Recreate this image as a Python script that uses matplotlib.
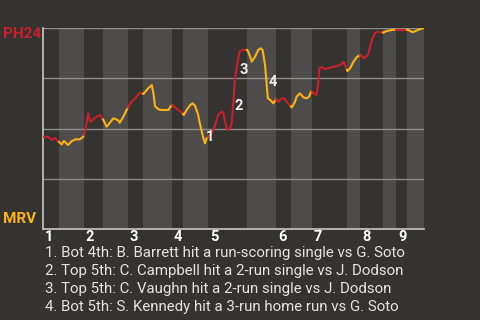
import matplotlib
matplotlib.use("Agg")
import matplotlib.pyplot as plt
import numpy as np

# win probability for PH24 (away team) after each plate appearance
pa = [0, 1.3, 2.2, 3.0, 3.4, 4.7, 5.2, 6.3, 7.2, 8.2, 9.2, 10.1, 10.5, 10.9, 11.3, 11.8,
      13.0, 14.2, 15.1, 15.9, 16.6, 17.6, 18.7, 19.2, 20.1, 20.9, 21.8, 22.6, 23.4, 24.2,
      25.1, 26.3, 27.2, 27.6, 28.0, 28.8, 29.7, 31.3, 32.2, 33.0, 33.8, 34.7, 35.2, 35.9,
      36.8, 37.4, 38.0, 38.8, 39.2, 40.1, 40.5, 40.9, 41.8, 42.6, 43.8, 44.7, 45.1, 45.5,
      46.1, 46.8, 47.2, 47.6, 48.0, 48.4, 48.8, 49.2, 50.1, 51.1, 51.8, 52.2, 53.0, 53.8,
      54.4, 54.9, 55.5, 55.9, 56.2, 56.8, 57.6, 58.2, 58.8, 59.7, 60.3, 60.9, 62.2, 63.0,
      63.4, 64.2, 65.1, 65.9, 66.5, 67.0, 67.6, 68.4, 68.8, 69.1, 69.7, 70.3, 71.3, 72.6,
      73.8, 74.7, 75.2, 75.8, 76.1, 76.8, 77.6, 78.4, 79.2, 80.3, 81.3, 81.8, 82.2, 83.0,
      83.6, 84.2, 85.1, 85.9, 87.2, 88.2, 91.1, 92.4, 93.4, 94.2, 95.25]
wp = [45.9, 45.9, 44.3, 45.4, 44.3, 42.1, 43.8, 41.8, 43.8, 44.6, 44.6, 45.9, 48.4, 52.6, 57.6, 53.4,
      55.4, 56.7, 54.2, 50.9, 52.6, 55.1, 54.2, 52.9, 55.9, 59.2, 62.5, 64.2, 65.8, 67.8,
      67.2, 70.0, 71.6, 67.5, 61.2, 59.6, 59.2, 59.2, 61.7, 60.5, 59.2, 57.9, 56.7, 59.2,
      61.7, 62.5, 61.3, 56.7, 52.6, 45.1, 42.6, 45.1, 46.8, 49.3, 56.7, 58.4, 57.6, 53.4,
      49.3, 50.1, 53.4, 63.3, 75.0, 80.0, 84.9, 88.6, 89.1, 89.1, 85.7, 83.2, 85.7, 89.1,
      89.9, 89.1, 81.6, 72.5, 65.0, 64.2, 62.5, 64.5, 63.3, 65.0, 65.0, 63.3, 60.5, 63.3,
      65.8, 67.5, 65.5, 65.0, 65.8, 68.3, 67.5, 66.7, 72.5, 80.0, 80.7, 79.6, 80.0, 80.7,
      81.2, 82.1, 83.2, 80.0, 78.6, 80.0, 83.2, 85.4, 86.6, 84.9, 86.9, 90.7, 94.0, 97.4,
      98.2, 97.9, 97.7, 98.5, 99.0, 99.2, 99.2, 97.9, 98.7, 99.4, 100.0]

# half-inning boundaries (top 1st ... bottom 9th)
half_innings = [0, 4, 10.25, 15, 21.25, 25, 32.25, 35, 41.25, 51, 58.25, 62, 67.25,
                76, 79.25, 85, 88.25, 91, 95.25]
innings = ["1", "2", "3", "4", "5", "6", "7", "8", "9"]

# key plays
event_pa = [40.3, 47.4, 48.5, 55.9]
event_wp = [45.8, 61.2, 79.1, 73.1]
event_labels = ["1", "2", "3", "4"]
event_text = [
    "1. Bot 4th: B. Barrett hit a run-scoring single vs G. Soto",
    "2. Top 5th: C. Campbell hit a 2-run single vs J. Dodson",
    "3. Top 5th: C. Vaughn hit a 2-run single vs J. Dodson",
    "4. Bot 5th: S. Kennedy hit a 3-run home run vs G. Soto",
]

bg = "#353330"
band = "#4d4c4a"
red = "#cc1f2e"
yellow = "#fbb414"

plt.rcParams['font.family'] = ['Roboto', 'DejaVu Sans']

fig = plt.figure(figsize=(4.8, 3.2), dpi=100, facecolor=bg)
ax = fig.add_axes([43 / 480, 1 - 229 / 320, 381 / 480, 201 / 320], facecolor=bg)

# shaded bottom halves
for i in range(1, len(half_innings) - 1, 2):
    ax.axvspan(half_innings[i], half_innings[i + 1], color=band, lw=0, zorder=0)

for g in [0.25, 0.5, 0.75, 1.0]:
    ax.axhline(g, color="#8c8c8c", lw=1, zorder=1)

xs = np.array(pa)
ys = np.array(wp) / 100
for i in range(len(half_innings) - 1):
    a, b = half_innings[i], half_innings[i + 1]
    m = (xs > a) & (xs < b)
    sx = np.concatenate([[a], xs[m], [b]])
    sy = np.interp(sx, xs, ys)
    ax.plot(sx, sy, color=red if i % 2 == 0 else yellow, lw=1.5,
            solid_joinstyle='round', zorder=3)

for x, y, lab in zip(event_pa, event_wp, event_labels):
    ax.annotate(lab, (x, y / 100), xytext=(1.5, 0), textcoords='offset points',
                ha='left', va='center', color="#f0f0f0", fontsize=10.5,
                fontweight='bold', zorder=4)

trans = ax.get_xaxis_transform()
for i, lab in enumerate(innings):
    ax.text(half_innings[2 * i] + 0.5, -0.04, lab, transform=trans, ha='left',
            va='center', color="white", fontsize=10.5, fontweight='bold')

ax.set_xlim(0, 95.25)
ax.set_ylim(0, 1)
ax.set_xticks([])
ax.set_yticks([])
for s in ["top", "right"]:
    ax.spines[s].set_visible(False)
for s in ["left", "bottom"]:
    ax.spines[s].set_color("#c8c8c8")
    ax.spines[s].set_linewidth(1.2)

fig.text(3 / 480, 1 - 34 / 320, "PH24", color="#c8202c", fontsize=11,
         fontweight='bold', va='center', ha='left')
fig.text(3 / 480, 1 - 219 / 320, "MRV", color=yellow, fontsize=11,
         fontweight='bold', va='center', ha='left')

for k, t in enumerate(event_text):
    fig.text(45 / 480, 1 - (253 + 18 * k) / 320, t, color="#e4e4e4",
             fontsize=10.8, va='center', ha='left')

fig.savefig("out.png", dpi=100, facecolor=bg)
